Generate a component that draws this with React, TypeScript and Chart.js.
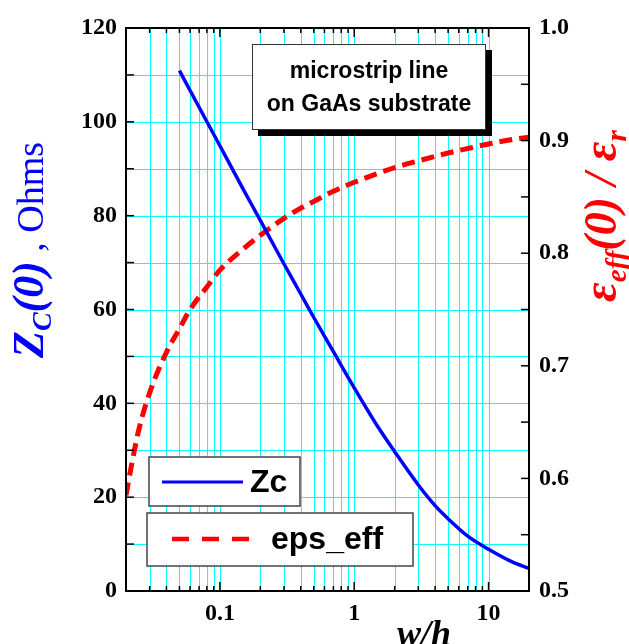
import React, { useEffect, useRef } from 'react';
import { Chart, registerables } from 'chart.js';

Chart.register(...registerables);

// ---- data ----
const zcX = [0.05, 0.07, 0.1, 0.15, 0.2, 0.3, 0.4, 0.5, 0.7, 1, 1.5, 2, 3, 4, 5, 7, 10, 15, 20];
const zcY = [110.9, 103.1, 94.9, 85.5, 79.0, 69.7, 63.3, 58.3, 51.0, 43.3, 35.0, 29.7, 22.6, 18.2, 15.4, 11.7, 8.9, 6.2, 4.8];

const epsX = [0.02, 0.022, 0.025, 0.03, 0.04, 0.05, 0.06, 0.08, 0.1, 0.15, 0.2, 0.3, 0.4, 0.5, 0.7, 1, 2, 3, 5, 7, 10, 15, 20];
const epsY = [0.585, 0.612, 0.644, 0.676, 0.712, 0.733, 0.750, 0.770, 0.785, 0.804, 0.816, 0.831, 0.840, 0.846, 0.855, 0.863, 0.876, 0.882, 0.889, 0.893, 0.897, 0.901, 0.903];

const seriesLabels = ['Zc', 'eps_eff'];
const xRange = [0.02, 20];
const yRange = [0, 120];
const y2Range = [0.5, 1.0];
const xLabelValues = [0.1, 1, 10];
const boxLines = ['microstrip line', 'on GaAs substrate'];
const xTitle = 'w/h';

const SERIF = '"Liberation Serif", "Times New Roman", serif';
const SANS = '"Liberation Sans", Arial, sans-serif';
const BLUE = '#0000ff';
const RED = '#ff0000';
const CYAN = '#00ffff';

function xTickValues(): number[] {
  const out: number[] = [];
  for (let e = -2; e <= 1; e++) {
    for (let m = 1; m <= 9; m++) {
      const v = Number((m * Math.pow(10, e)).toPrecision(6));
      if (v >= xRange[0] - 1e-9 && v <= xRange[1] + 1e-9) out.push(v);
    }
  }
  return out;
}

const isDecade = (v: number) => Math.abs(Math.log10(v) - Math.round(Math.log10(v))) < 1e-6;

type Seg = { text: string; font: string; dy?: number };
function drawRich(ctx: CanvasRenderingContext2D, segs: Seg[]) {
  let cx = 0;
  for (const s of segs) {
    ctx.font = s.font;
    ctx.fillText(s.text, cx, s.dy || 0);
    cx += ctx.measureText(s.text).width;
  }
}

const decorPlugin = {
  id: 'decor',
  beforeDatasetsDraw(chart: any) {
    const { ctx, chartArea } = chart;
    const { left, right, top, bottom } = chartArea;
    const x = chart.scales.x;
    const y = chart.scales.y;
    ctx.save();
    ctx.lineWidth = 1;
    ctx.strokeStyle = CYAN;
    for (const t of x.ticks) {
      const v = t.value;
      if (v <= xRange[0] * 1.0001 || v >= xRange[1] * 0.9999) continue;
      const px = Math.round(x.getPixelForValue(v)) + 0.5;
      ctx.beginPath();
      ctx.moveTo(px, top);
      ctx.lineTo(px, bottom);
      ctx.stroke();
    }
    for (const t of y.ticks) {
      const v = t.value;
      if (v <= yRange[0] || v >= yRange[1]) continue;
      const py = Math.round(y.getPixelForValue(v)) + 0.5;
      ctx.beginPath();
      ctx.moveTo(left, py);
      ctx.lineTo(right, py);
      ctx.stroke();
    }
    ctx.restore();
  },
  afterDatasetsDraw(chart: any) {
    const { ctx, chartArea } = chart;
    const { left, right, top, bottom } = chartArea;
    const x = chart.scales.x;
    const y = chart.scales.y;
    const y2 = chart.scales.y2;
    ctx.save();
    ctx.setLineDash([]);
    ctx.strokeStyle = '#000';
    ctx.lineWidth = 1.5;
    for (const t of x.ticks) {
      const v = t.value;
      const px = x.getPixelForValue(v);
      const len = isDecade(v) ? 9 : 5;
      ctx.beginPath();
      ctx.moveTo(px, bottom);
      ctx.lineTo(px, bottom - len);
      ctx.moveTo(px, top);
      ctx.lineTo(px, top + len);
      ctx.stroke();
    }
    for (const t of y.ticks) {
      const py = y.getPixelForValue(t.value);
      ctx.beginPath();
      ctx.moveTo(left, py);
      ctx.lineTo(left + 8, py);
      ctx.stroke();
    }
    for (const t of y2.ticks) {
      const py = y2.getPixelForValue(t.value);
      ctx.beginPath();
      ctx.moveTo(right, py);
      ctx.lineTo(right - 8, py);
      ctx.stroke();
    }
    ctx.lineWidth = 2;
    ctx.strokeRect(left, top, right - left, bottom - top);
    ctx.restore();
  },
  afterDraw(chart: any) {
    const { ctx } = chart;
    ctx.save();
    ctx.setLineDash([]);

    // text box with shadow
    const bx = 252, by = 44, bw = 234, bh = 86;
    ctx.fillStyle = '#000';
    ctx.fillRect(bx + 6, by + 6, bw, bh);
    ctx.fillStyle = '#fff';
    ctx.fillRect(bx, by, bw, bh);
    ctx.strokeStyle = '#333';
    ctx.lineWidth = 1;
    ctx.strokeRect(bx + 0.5, by + 0.5, bw - 1, bh - 1);
    ctx.fillStyle = '#000';
    ctx.font = `bold 23px ${SANS}`;
    ctx.textAlign = 'center';
    ctx.textBaseline = 'middle';
    ctx.fillText(boxLines[0], bx + bw / 2, by + 28);
    ctx.fillText(boxLines[1], bx + bw / 2, by + 61);

    // legend boxes
    ctx.lineWidth = 1.5;
    ctx.strokeStyle = '#444';
    ctx.fillStyle = '#fff';
    ctx.fillRect(149, 457, 151, 49);
    ctx.strokeRect(149, 457, 151, 49);
    ctx.fillRect(147, 513, 266, 53);
    ctx.strokeRect(147, 513, 266, 53);

    ctx.strokeStyle = BLUE;
    ctx.lineWidth = 3;
    ctx.beginPath();
    ctx.moveTo(162, 482);
    ctx.lineTo(243, 482);
    ctx.stroke();

    ctx.strokeStyle = RED;
    ctx.lineWidth = 4.5;
    ctx.setLineDash([17, 13]);
    ctx.beginPath();
    ctx.moveTo(172, 539);
    ctx.lineTo(250, 539);
    ctx.stroke();
    ctx.setLineDash([]);

    ctx.fillStyle = '#000';
    ctx.font = `bold 32px ${SANS}`;
    ctx.textAlign = 'left';
    ctx.textBaseline = 'middle';
    ctx.fillText(chart.data.datasets[0].label, 250, 483);
    ctx.fillText(chart.data.datasets[1].label, 271, 540);

    // x title
    ctx.font = `italic bold 36px ${SERIF}`;
    ctx.textAlign = 'center';
    ctx.textBaseline = 'alphabetic';
    ctx.fillText(xTitle, 424, 645);

    // left title (rotated)
    ctx.textAlign = 'left';
    ctx.textBaseline = 'alphabetic';
    ctx.fillStyle = BLUE;
    ctx.save();
    ctx.translate(43, 358);
    ctx.rotate(-Math.PI / 2);
    drawRich(ctx, [
      { text: 'Z', font: `italic bold 44px ${SERIF}` },
      { text: 'C', font: `italic bold 28px ${SERIF}`, dy: 8 },
      { text: '(0)', font: `italic bold 44px ${SERIF}` },
      { text: ' , ', font: `38px ${SERIF}` },
      { text: 'Ohms', font: `38px ${SERIF}` },
    ]);
    ctx.restore();

    // right title (rotated)
    ctx.fillStyle = RED;
    ctx.save();
    ctx.translate(616, 302);
    ctx.rotate(-Math.PI / 2);
    drawRich(ctx, [
      { text: 'ε', font: `italic bold 48px ${SERIF}` },
      { text: 'eff', font: `italic bold 29px ${SERIF}`, dy: 10 },
      { text: '(0)', font: `italic bold 46px ${SERIF}` },
      { text: ' / ', font: `italic bold 46px ${SERIF}` },
      { text: 'ε', font: `italic bold 48px ${SERIF}` },
      { text: 'r', font: `italic bold 29px ${SERIF}`, dy: 10 },
    ]);
    ctx.restore();

    ctx.restore();
  },
};

export default function App() {
  const ref = useRef<HTMLCanvasElement>(null);
  useEffect(() => {
    document.body.style.margin = '0';
    const tickFont = { family: SERIF, size: 24, weight: 'bold' as const };
    const chart = new Chart(ref.current as HTMLCanvasElement, {
      type: 'line',
      data: {
        datasets: [
          {
            label: seriesLabels[0],
            data: zcX.map((v, i) => ({ x: v, y: zcY[i] })),
            yAxisID: 'y',
            borderColor: BLUE,
            borderWidth: 3.5,
            pointRadius: 0,
            cubicInterpolationMode: 'monotone',
            fill: false,
          },
          {
            label: seriesLabels[1],
            data: epsX.map((v, i) => ({ x: v, y: epsY[i] })),
            yAxisID: 'y2',
            borderColor: RED,
            borderWidth: 5,
            borderDash: [13, 7],
            pointRadius: 0,
            cubicInterpolationMode: 'monotone',
            fill: false,
          },
        ],
      },
      options: {
        responsive: false,
        animation: false,
        devicePixelRatio: 1,
        layout: { padding: { top: 28, left: 0, right: 0, bottom: 0 } },
        plugins: { legend: { display: false }, tooltip: { enabled: false } },
        scales: {
          x: {
            type: 'logarithmic',
            position: 'bottom',
            min: xRange[0],
            max: xRange[1],
            afterBuildTicks: (s: any) => {
              s.ticks = xTickValues().map((v) => ({ value: v }));
            },
            afterFit: (s: any) => {
              s.height = 53;
            },
            grid: { display: false, drawTicks: false },
            border: { display: false },
            ticks: {
              autoSkip: false,
              maxRotation: 0,
              minRotation: 0,
              padding: 8,
              color: '#000',
              font: tickFont,
              callback: (v: any) => {
                const n = Number(v);
                return xLabelValues.some((l) => Math.abs(l - n) < 1e-9) ? String(n) : '';
              },
            },
          },
          y: {
            type: 'linear',
            position: 'left',
            min: yRange[0],
            max: yRange[1],
            afterFit: (s: any) => {
              s.width = 126;
            },
            grid: { display: false, drawTicks: false },
            border: { display: false },
            ticks: {
              stepSize: 10,
              autoSkip: false,
              padding: 9,
              color: '#000',
              font: tickFont,
              callback: (v: any) => (Math.round(Number(v)) % 20 === 0 ? String(Math.round(Number(v))) : ''),
            },
          },
          y2: {
            type: 'linear',
            position: 'right',
            min: y2Range[0],
            max: y2Range[1],
            afterFit: (s: any) => {
              s.width = 100;
            },
            grid: { display: false, drawTicks: false },
            border: { display: false },
            ticks: {
              stepSize: 0.05,
              autoSkip: false,
              padding: 10,
              color: '#000',
              font: tickFont,
              callback: (v: any) => {
                const n = Number(v) * 10;
                return Math.abs(n - Math.round(n)) < 1e-6 ? Number(v).toFixed(1) : '';
              },
            },
          },
        },
      },
      plugins: [decorPlugin],
    } as any);
    return () => chart.destroy();
  }, []);
  return (
    <div style={{ width: 629, height: 644 }}>
      <canvas ref={ref} width={629} height={644} style={{ display: 'block' }} />
    </div>
  );
}
